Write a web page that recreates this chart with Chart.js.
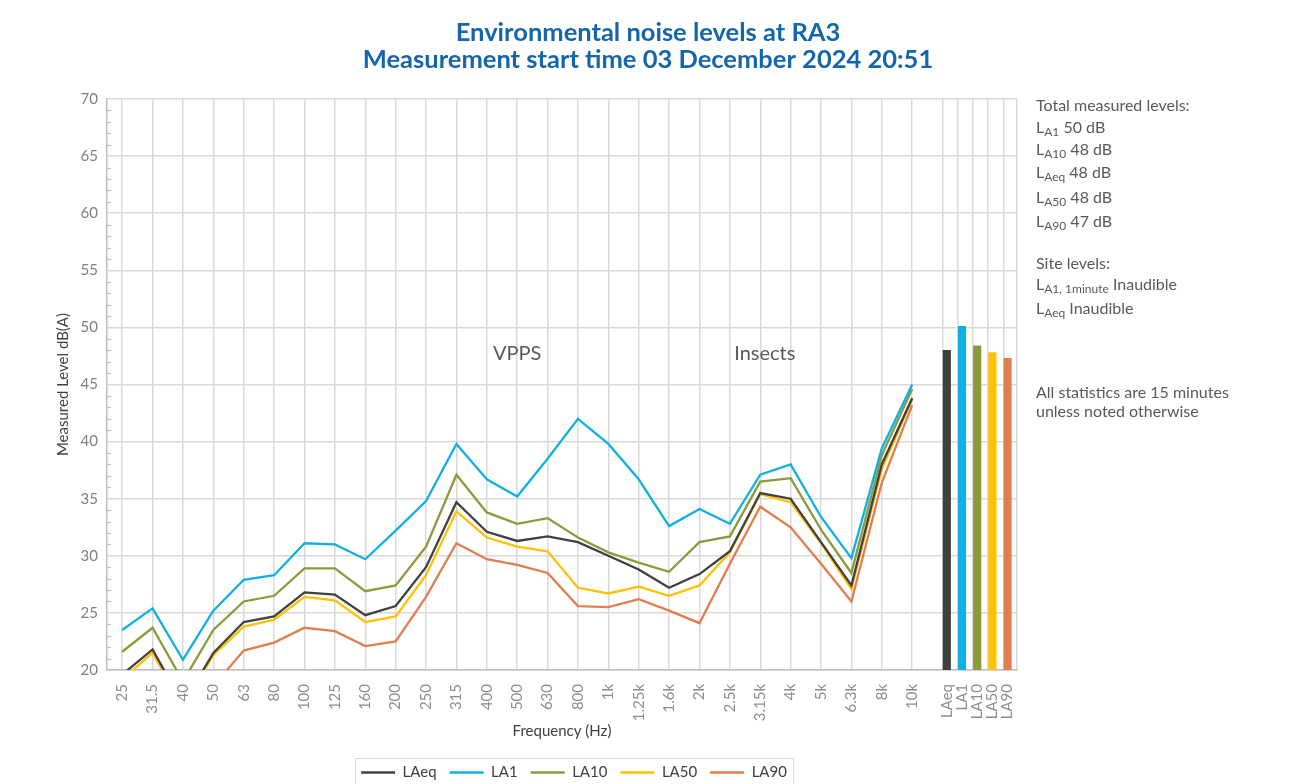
<!DOCTYPE html>
<html>
<head>
<meta charset="utf-8">
<title>Environmental noise levels at RA3</title>
<script src="https://cdn.jsdelivr.net/npm/chart.js@4.4.1/dist/chart.umd.min.js"></script>
<style>
  html, body { margin: 0; padding: 0; background: #fff; }
  #wrap { width: 1296px; height: 784px; }
</style>
</head>
<body>
<div id="wrap"><canvas id="noiseChart" width="1296" height="784"></canvas></div>
<script>
// third-octave bands (Hz)
const frequencies = ['25', '31.5', '40', '50', '63', '80', '100', '125', '160', '200', '250', '315', '400',
    '500', '630', '800', '1k', '1.25k', '1.6k', '2k', '2.5k', '3.15k', '4k', '5k', '6.3k', '8k', '10k'];

// spectrum levels, dB(A)
const laeq = [19.6, 21.8, 17.0, 21.5, 24.2, 24.7, 26.8, 26.6, 24.8, 25.6, 29.0, 34.7, 32.1, 31.3,
    31.7, 31.2, 30.0, 28.8, 27.2, 28.4, 30.4, 35.5, 35.0, 31.2, 27.4, 38.0, 43.8];
const la1 = [23.5, 25.4, 20.9, 25.2, 27.9, 28.3, 31.1, 31.0, 29.7, 32.2, 34.8, 39.8, 36.7, 35.2,
    38.5, 42.0, 39.8, 36.7, 32.6, 34.1, 32.8, 37.1, 38.0, 33.4, 29.8, 39.4, 45.0];
const la10 = [21.6, 23.7, 19.0, 23.5, 26.0, 26.5, 28.9, 28.9, 26.9, 27.4, 30.8, 37.1, 33.8, 32.8,
    33.3, 31.6, 30.3, 29.4, 28.6, 31.2, 31.7, 36.5, 36.8, 32.3, 28.5, 38.8, 44.6];
const la50 = [19.2, 21.5, 16.8, 21.3, 23.8, 24.4, 26.4, 26.1, 24.2, 24.7, 28.3, 33.9, 31.6, 30.8,
    30.4, 27.2, 26.7, 27.3, 26.5, 27.4, 30.3, 35.4, 34.7, 31.1, 27.1, 37.6, 43.7];
const la90 = [17.5, 18.2, 15.0, 18.6, 21.7, 22.4, 23.7, 23.4, 22.1, 22.5, 26.4, 31.1, 29.7, 29.2,
    28.5, 25.6, 25.5, 26.2, 25.2, 24.1, 29.3, 34.3, 32.5, 29.3, 26.0, 36.4, 43.2];

// total measured levels, dB(A)
const statLabels = ['LAeq', 'LA1', 'LA10', 'LA50', 'LA90'];
const statLevels = [48.0, 50.1, 48.4, 47.8, 47.3];
const noteOrder = ['LA1', 'LA10', 'LAeq', 'LA50', 'LA90'];

const yTicks = [20, 25, 30, 35, 40, 45, 50, 55, 60, 65, 70];

const colours = ['#404040', '#12b0e2', '#8a9b3c', '#ffc000', '#e07e4f'];
const fontFamily = 'Lato, "Open Sans", sans-serif';

// x layout: one unit per band, stats squeezed to half units after the last band
const xMin = -0.5;
const xMax = 29.45;
const statGridX = statLabels.map((s, j) => frequencies.length + j / 2);
const statBarX = statGridX.map(x => x + 0.14);

const xTicks = [];
frequencies.forEach((f, i) => xTicks.push({ value: i, label: f, grid: true }));
statLabels.forEach((s, j) => {
    xTicks.push({ value: statGridX[j], label: '', grid: true });
    xTicks.push({ value: statBarX[j], label: s, grid: false });
});
xTicks.push({ value: xMax, label: '', grid: true });

const series = [laeq, la1, la10, la50, la90];

const datasets = series.map((vals, k) => ({
    type: 'line',
    label: statLabels[k],
    data: vals.map((v, i) => ({ x: i, y: v })),
    borderColor: colours[k],
    backgroundColor: colours[k],
    borderWidth: 2.3,
    pointRadius: 0,
    tension: 0,
    order: 1
}));
datasets.push({
    type: 'bar',
    label: 'Totals',
    data: statLevels.map((v, j) => ({ x: statBarX[j], y: v })),
    backgroundColor: colours,
    barThickness: 7.5,
    order: 2
});

const notes = [
    { y: 106, text: 'Total measured levels:' },
    ...noteOrder.map((name, n) => ({
        y: [128, 150, 173, 198, 222][n],
        sub: name.slice(1),
        text: ' ' + Math.round(statLevels[statLabels.indexOf(name)]) + ' dB'
    })),
    { y: 264, text: 'Site levels:' },
    { y: 285, sub: 'A1, 1minute', text: ' Inaudible' },
    { y: 309, sub: 'Aeq', text: ' Inaudible' },
    { y: 393, text: 'All statistics are 15 minutes' },
    { y: 412, text: 'unless noted otherwise' }
];

const sourceLabels = [
    { text: 'VPPS', x: 13, y: 47.7 },
    { text: 'Insects', x: 21.15, y: 47.7 }
];

const extrasPlugin = {
    id: 'extras',
    afterLayout(chart) {
        // legend sits a little right of the plot centre in the original
        chart.legend.left += 12;
        chart.legend.right += 12;
    },
    beforeDatasetsDraw(chart) {
        // small minor tick marks on the value axis
        const { ctx, chartArea, scales: { y } } = chart;
        ctx.save();
        ctx.strokeStyle = '#bfbfbf';
        ctx.lineWidth = 1.2;
        for (let v = y.min + 1; v < y.max; v++) {
            if (v % 5 === 0) continue;
            const py = Math.round(y.getPixelForValue(v)) + 0.5;
            ctx.beginPath();
            ctx.moveTo(chartArea.left, py);
            ctx.lineTo(chartArea.left + 4, py);
            ctx.stroke();
        }
        ctx.restore();
    },
    afterDraw(chart) {
        const { ctx, scales: { x, y } } = chart;
        ctx.save();

        // source annotations
        ctx.font = '20px ' + fontFamily;
        ctx.fillStyle = '#595959';
        ctx.textAlign = 'center';
        ctx.textBaseline = 'middle';
        sourceLabels.forEach(a => ctx.fillText(a.text, x.getPixelForValue(a.x), y.getPixelForValue(a.y)));

        // notes on the right
        ctx.textAlign = 'left';
        const left = 1036;
        notes.forEach(n => {
            let px = left;
            if (n.sub) {
                ctx.font = '16px ' + fontFamily;
                ctx.fillText('L', px, n.y);
                px += ctx.measureText('L').width;
                ctx.font = '12px ' + fontFamily;
                ctx.fillText(n.sub, px, n.y + 4);
                px += ctx.measureText(n.sub).width;
            }
            ctx.font = '16px ' + fontFamily;
            ctx.fillText(n.text, px, n.y);
        });

        // box round the legend
        const boxes = chart.legend.legendHitBoxes;
        if (boxes && boxes.length) {
            const l = Math.min(...boxes.map(b => b.left)) - 6;
            const r = Math.max(...boxes.map(b => b.left + b.width)) + 6;
            const t = boxes[0].top - 7;
            ctx.strokeStyle = '#d9d9d9';
            ctx.lineWidth = 1;
            ctx.strokeRect(Math.round(l) + 0.5, Math.round(t) + 0.5, Math.round(r - l), 40);
        }
        ctx.restore();
    }
};

const ctx = document.getElementById('noiseChart').getContext('2d');
Chart.defaults.font.family = fontFamily;

const noiseChart = new Chart(ctx, {
    data: { datasets: datasets },
    options: {
        responsive: false,
        animation: false,
        layout: { padding: { left: 0, right: 0, top: 0, bottom: -6 } },
        plugins: {
            title: {
                display: true,
                text: ['Environmental noise levels at RA3', 'Measurement start time 03 December 2024 20:51'],
                color: '#1565ad',
                font: { size: 25.5, weight: 'bold', lineHeight: 1.06 },
                padding: { top: 19, bottom: 26 }
            },
            legend: {
                position: 'bottom',
                fullSize: false,
                labels: {
                    usePointStyle: true,
                    pointStyle: 'line',
                    pointStyleWidth: 34,
                    color: '#404040',
                    font: { size: 15 },
                    padding: 13,
                    filter: item => item.datasetIndex < series.length
                }
            },
            tooltip: { enabled: false }
        },
        scales: {
            x: {
                type: 'linear',
                min: xMin,
                max: xMax,
                offset: false,
                afterBuildTicks: scale => { scale.ticks = xTicks.map(t => ({ value: t.value })); },
                afterFit: scale => { scale.height = 82; },
                ticks: {
                    autoSkip: false,
                    minRotation: 90,
                    maxRotation: 90,
                    padding: 14,
                    color: '#8c8c8c',
                    font: { size: 15 },
                    callback: (v, i) => xTicks[i] ? xTicks[i].label : ''
                },
                grid: {
                    offset: false,
                    color: c => (xTicks[c.index] && xTicks[c.index].grid) ? '#d9d9d9' : 'rgba(0,0,0,0)',
                    lineWidth: 1.5,
                    drawTicks: false
                },
                border: { color: '#bfbfbf', width: 1.5 },
                title: {
                    display: true,
                    text: 'Frequency (Hz)',
                    color: '#404040',
                    font: { size: 15 },
                    padding: { top: 0, bottom: 12 }
                }
            },
            y: {
                min: 20,
                max: 70,
                afterBuildTicks: scale => { scale.ticks = yTicks.map(v => ({ value: v })); },
                afterFit: scale => { scale.width = 107; },
                ticks: { padding: 9, color: '#7f7f7f', font: { size: 15 } },
                grid: { color: '#d9d9d9', lineWidth: 1.5, drawTicks: false },
                border: { color: '#bfbfbf', width: 1.5 },
                title: {
                    display: true,
                    text: 'Measured Level dB(A)',
                    color: '#404040',
                    font: { size: 15 },
                    padding: { top: 54, bottom: 0 }
                }
            },
            // empty right-hand box that keeps room for the notes
            notes: {
                type: 'linear',
                position: 'right',
                afterFit: scale => { scale.width = 279; },
                ticks: { display: false },
                grid: { display: false },
                border: { display: false }
            }
        }
    },
    plugins: [extrasPlugin]
});
</script>
</body>
</html>
